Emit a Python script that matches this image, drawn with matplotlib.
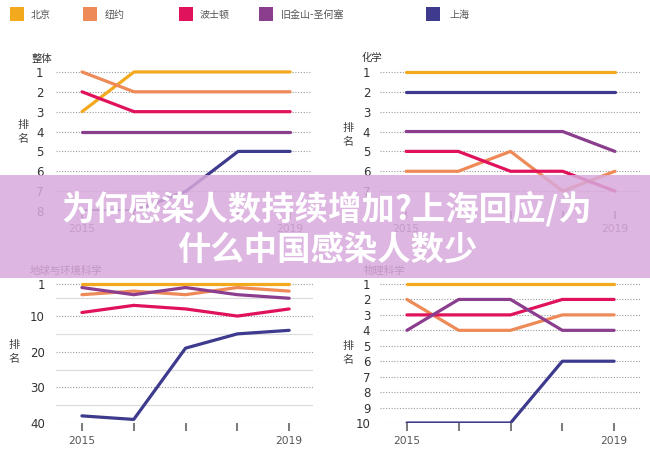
import matplotlib
matplotlib.use("Agg")
import matplotlib.pyplot as plt
from matplotlib.patches import Rectangle

plt.rcParams['font.family'] = ['DejaVu Sans', 'Noto Sans CJK SC']

years = [2015, 2016, 2017, 2018, 2019]
year_labels = ['2015', '', '', '', '2019']
cities = ['北京', '纽约', '波士顿', '旧金山-圣何塞', '上海']
colors = ['#F2A91E', '#EE8A58', '#E0125C', '#8C3E8E', '#3E3A8D']

# ranks, one row per city in the order of `cities`
rank_overall = [[3, 1, 1, 1, 1], [1, 2, 2, 2, 2], [2, 3, 3, 3, 3], [4, 4, 4, 4, 4], [8, 8, 7, 5, 5]]
rank_chem = [[1, 1, 1, 1, 1], [6, 6, 5, 7, 6], [5, 5, 6, 6, 7], [4, 4, 4, 4, 5], [2, 2, 2, 2, 2]]
rank_earth = [[1, 1, 1, 1, 1], [4, 3, 4, 2, 3], [9, 7, 8, 10, 8], [2, 4, 2, 4, 5], [38, 39, 19, 15, 14]]
rank_phys = [[1, 1, 1, 1, 1], [2, 4, 4, 3, 3], [3, 3, 3, 2, 2], [4, 2, 2, 4, 4], [10, 10, 10, 6, 6]]

titles = ['整体', '化学', '地球与环境科学', '物理科学']
yticks_overall = [1, 2, 3, 4, 5, 6, 7, 8]
yticks_chem = [1, 2, 3, 4, 5, 6, 7]
yticks_earth = [1, 10, 20, 30, 40]
yticks_earth_minor = [5, 15, 25, 35]
yticks_phys = [1, 2, 3, 4, 5, 6, 7, 8, 9, 10]
ylabel = '排\n名'
headline = '为何感染人数持续增加?上海回应/为\n什么中国感染人数少'

W, H = 650, 455
fig = plt.figure(figsize=(W / 100, H / 100), dpi=100)
fig.patch.set_facecolor('white')


def rect(l, r, t, b):
    return [l / W, 1 - b / H, (r - l) / W, (b - t) / H]


def panel(box, data, yt, ylim, xlim, minor=None, pad=8):
    ax = fig.add_axes(rect(*box))
    for vals, c in zip(data, colors):
        ax.plot(years, vals, color=c, lw=2.3, solid_capstyle='round',
                solid_joinstyle='round', zorder=3)
    ax.set_xlim(*xlim)
    ax.set_ylim(*ylim)
    ax.set_yticks(yt)
    ax.set_yticklabels([str(v) for v in yt])
    ax.set_xticks(years)
    ax.set_xticklabels(year_labels)
    for s in ax.spines.values():
        s.set_visible(False)
    ax.tick_params(axis='y', length=0, pad=pad, labelsize=8.5, labelcolor='#333333')
    ax.tick_params(axis='x', length=5.5, width=1.1, color='#555555', pad=4,
                   labelsize=7.7, labelcolor='#555555')
    ax.grid(axis='y', which='major', color='#9a9a9a', lw=0.8, ls=(0, (1, 1.5)), zorder=1)
    ax.grid(axis='x', visible=False)
    if minor is not None:
        ax.set_yticks(minor, minor=True)
        ax.tick_params(axis='y', which='minor', length=0)
        ax.grid(axis='y', which='minor', color='#dddddd', lw=0.9, ls='-', zorder=1)
    ax.set_facecolor('none')
    return ax


panel((56, 312, 62, 211), rank_overall, yticks_overall, (8, 0.5), (2014.5, 2019.42), pad=9)
panel((380, 640, 62, 211), rank_chem, yticks_chem, (8, 0.5), (2014.5, 2019.48), pad=7)
panel((56, 313, 277, 423), rank_earth, yticks_earth, (40, -0.96), (2014.5, 2019.46),
      minor=yticks_earth_minor, pad=8)
panel((380, 640, 277, 423), rank_phys, yticks_phys, (10, 0.547), (2014.48, 2019.5), pad=7)

# panel titles
for t, (x, y) in zip(titles, [(32, 59), (362, 58), (30, 271), (364, 271)]):
    fig.text(x / W, 1 - y / H, t, fontsize=7.5, color='#333333', ha='left', va='center',
             family=['Noto Sans CJK SC', 'DejaVu Sans'])

# y-axis "排名"
for (x, y) in [(23, 132), (348, 135), (14, 352), (348, 353)]:
    fig.text(x / W, 1 - y / H, ylabel, fontsize=8, color='#444444', ha='center', va='center',
             linespacing=1.55, family=['Noto Sans CJK SC', 'DejaVu Sans'])

# legend
sq_x = [10, 83, 179, 259, 426]
tx_x = [31, 105, 200, 281, 450]
for name, c, sx, tx in zip(cities, colors, sq_x, tx_x):
    fig.patches.append(Rectangle((sx / W, 1 - 21 / H), 14 / W, 14 / H, transform=fig.transFigure,
                                 facecolor=c, edgecolor='none'))
    fig.text(tx / W, 1 - 15 / H, name, fontsize=7.2, color='#555555', ha='left', va='center',
             family=['Noto Sans CJK SC', 'DejaVu Sans'])

# overlay band with headline
fig.patches.append(Rectangle((0, 1 - 278 / H), 1, 103 / H, transform=fig.transFigure,
                             facecolor='#D8A9DC', edgecolor='none', alpha=0.85, zorder=10))
fig.text(327 / W, 1 - 229 / H, headline, fontsize=24, color='white', weight='bold',
         ha='center', va='center', linespacing=1.3, zorder=11,
         family=['Noto Sans CJK SC', 'DejaVu Sans'])

fig.savefig('out.png', dpi=100, facecolor='white')
